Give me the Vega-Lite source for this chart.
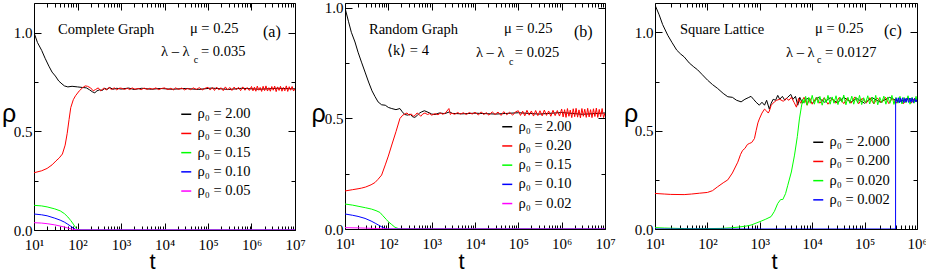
{
"$schema": "https://vega.github.io/schema/vega-lite/v6.json",
"padding": {"top": 0, "left": 0, "right": 0, "bottom": 0},
"background": "white",
"spacing": 50,
"bounds": "flush",
"config": {
 "font": "Times New Roman, Liberation Serif, serif",
 "view": {"stroke": "#000", "strokeWidth": 1},
 "axis": {"grid": false, "domain": false, "tickColor": "#000", "tickWidth": 1, "labelColor": "#000", "labelFont": "Times New Roman, Liberation Serif, serif", "labelFontSize": 15, "titleFont": "Liberation Sans, Arial, sans-serif", "titleFontWeight": "normal", "titleColor": "#000", "labelFlush": false, "labelOverlap": false},
 "axisX": {"titleFontSize": 22, "titleAlign": "center", "titleBaseline": "alphabetic"},
 "axisY": {"titleFontSize": 25, "titleAngle": 0, "titleAlign": "center", "titleBaseline": "alphabetic"},
 "legend": {"orient": "none", "title": null, "symbolType": "stroke", "symbolSize": 100, "symbolStrokeWidth": 1.5, "labelFontSize": 14.5, "labelFont": "Times New Roman, Liberation Serif, serif", "labelColor": "#000", "rowPadding": 4.2, "labelOffset": 4, "padding": 0},
 "text": {"font": "Times New Roman, Liberation Serif, serif", "color": "#000"}
},
"resolve": {"scale": {"color": "independent"}, "legend": {"color": "independent"}},
"datasets": {
 "a": [
  {"k":"ρ₀ = 2.00","t":10,"r":1.0},{"k":"ρ₀ = 2.00","t":12,"r":0.95},{"k":"ρ₀ = 2.00","t":15,"r":0.91},{"k":"ρ₀ = 2.00","t":18,"r":0.87},{"k":"ρ₀ = 2.00","t":22,"r":0.83},{"k":"ρ₀ = 2.00","t":26,"r":0.80},{"k":"ρ₀ = 2.00","t":31,"r":0.78},{"k":"ρ₀ = 2.00","t":37,"r":0.755},{"k":"ρ₀ = 2.00","t":44,"r":0.74},{"k":"ρ₀ = 2.00","t":50,"r":0.73},{"k":"ρ₀ = 2.00","t":60,"r":0.725},{"k":"ρ₀ = 2.00","t":75,"r":0.728},{"k":"ρ₀ = 2.00","t":100,"r":0.725},{"k":"ρ₀ = 2.00","t":130,"r":0.722},{"k":"ρ₀ = 2.00","t":160,"r":0.72},{"k":"ρ₀ = 2.00","t":190,"r":0.71},{"k":"ρ₀ = 2.00","t":220,"r":0.70},{"k":"ρ₀ = 2.00","t":250,"r":0.695},{"k":"ρ₀ = 2.00","t":280,"r":0.705},{"k":"ρ₀ = 2.00","t":320,"r":0.71},{"k":"ρ₀ = 2.00","t":370,"r":0.707},{"k":"ρ₀ = 2.00","t":420,"r":0.718},{"k":"ρ₀ = 2.00","t":480,"r":0.712},{"k":"ρ₀ = 2.00","t":550,"r":0.722},{"k":"ρ₀ = 2.00","t":650,"r":0.713},{"k":"ρ₀ = 2.00","t":800,"r":0.718},{"k":"ρ₀ = 2.00","t":1000,"r":0.714},{"k":"ρ₀ = 2.00","t":1500,"r":0.719},{"k":"ρ₀ = 2.00","t":2000,"r":0.712},{"k":"ρ₀ = 2.00","t":3000,"r":0.718},{"k":"ρ₀ = 2.00","t":5000,"r":0.713},{"k":"ρ₀ = 2.00","t":8000,"r":0.717},{"k":"ρ₀ = 2.00","t":15000,"r":0.713},{"k":"ρ₀ = 2.00","t":30000,"r":0.717},{"k":"ρ₀ = 2.00","t":60000,"r":0.712},{"k":"ρ₀ = 2.00","t":120000,"r":0.719},{"k":"ρ₀ = 2.00","t":300000,"r":0.712},{"k":"ρ₀ = 2.00","t":600000,"r":0.718},{"k":"ρ₀ = 2.00","t":1500000,"r":0.713},{"k":"ρ₀ = 2.00","t":4000000,"r":0.718},{"k":"ρ₀ = 2.00","t":10000000,"r":0.715},
  {"k":"ρ₀ = 0.30","t":10,"r":0.29},{"k":"ρ₀ = 0.30","t":15,"r":0.30},{"k":"ρ₀ = 0.30","t":20,"r":0.312},{"k":"ρ₀ = 0.30","t":26,"r":0.33},{"k":"ρ₀ = 0.30","t":32,"r":0.35},{"k":"ρ₀ = 0.30","t":38,"r":0.365},{"k":"ρ₀ = 0.30","t":45,"r":0.385},{"k":"ρ₀ = 0.30","t":52,"r":0.43},{"k":"ρ₀ = 0.30","t":58,"r":0.49},{"k":"ρ₀ = 0.30","t":64,"r":0.56},{"k":"ρ₀ = 0.30","t":70,"r":0.62},{"k":"ρ₀ = 0.30","t":80,"r":0.66},{"k":"ρ₀ = 0.30","t":90,"r":0.68},{"k":"ρ₀ = 0.30","t":110,"r":0.705},{"k":"ρ₀ = 0.30","t":130,"r":0.72},{"k":"ρ₀ = 0.30","t":150,"r":0.73},{"k":"ρ₀ = 0.30","t":170,"r":0.728},{"k":"ρ₀ = 0.30","t":200,"r":0.72},{"k":"ρ₀ = 0.30","t":230,"r":0.705},{"k":"ρ₀ = 0.30","t":260,"r":0.712},{"k":"ρ₀ = 0.30","t":300,"r":0.72},{"k":"ρ₀ = 0.30","t":340,"r":0.705},{"k":"ρ₀ = 0.30","t":400,"r":0.718},{"k":"ρ₀ = 0.30","t":460,"r":0.71},{"k":"ρ₀ = 0.30","t":530,"r":0.722},{"k":"ρ₀ = 0.30","t":600,"r":0.712},{"k":"ρ₀ = 0.30","t":700,"r":0.72},{"k":"ρ₀ = 0.30","t":800,"r":0.71},{"k":"ρ₀ = 0.30","t":900,"r":0.718},
  {"k":"ρ₀ = 0.30","t":1000,"r":0.719},{"k":"ρ₀ = 0.30","t":1200,"r":0.712},{"k":"ρ₀ = 0.30","t":1400,"r":0.718},{"k":"ρ₀ = 0.30","t":1600,"r":0.711},{"k":"ρ₀ = 0.30","t":1800,"r":0.72},{"k":"ρ₀ = 0.30","t":2100,"r":0.713},{"k":"ρ₀ = 0.30","t":2500,"r":0.717},{"k":"ρ₀ = 0.30","t":2900,"r":0.711},{"k":"ρ₀ = 0.30","t":3400,"r":0.719},{"k":"ρ₀ = 0.30","t":4000,"r":0.712},{"k":"ρ₀ = 0.30","t":4600,"r":0.718},{"k":"ρ₀ = 0.30","t":5400,"r":0.713},{"k":"ρ₀ = 0.30","t":6300,"r":0.72},{"k":"ρ₀ = 0.30","t":7400,"r":0.711},{"k":"ρ₀ = 0.30","t":8600,"r":0.717},
  {"k":"ρ₀ = 0.30","t":10000,"r":0.72},{"k":"ρ₀ = 0.30","t":12000,"r":0.711},{"k":"ρ₀ = 0.30","t":14000,"r":0.718},{"k":"ρ₀ = 0.30","t":16000,"r":0.71},{"k":"ρ₀ = 0.30","t":18000,"r":0.72},{"k":"ρ₀ = 0.30","t":21000,"r":0.712},{"k":"ρ₀ = 0.30","t":25000,"r":0.719},{"k":"ρ₀ = 0.30","t":29000,"r":0.71},{"k":"ρ₀ = 0.30","t":34000,"r":0.717},{"k":"ρ₀ = 0.30","t":40000,"r":0.711},{"k":"ρ₀ = 0.30","t":46000,"r":0.72},{"k":"ρ₀ = 0.30","t":54000,"r":0.712},{"k":"ρ₀ = 0.30","t":63000,"r":0.721},{"k":"ρ₀ = 0.30","t":74000,"r":0.71},{"k":"ρ₀ = 0.30","t":86000,"r":0.718},
  {"k":"ρ₀ = 0.30","t":100000,"r":0.723},{"k":"ρ₀ = 0.30","t":112000,"r":0.709},{"k":"ρ₀ = 0.30","t":126000,"r":0.722},{"k":"ρ₀ = 0.30","t":141000,"r":0.707},{"k":"ρ₀ = 0.30","t":158000,"r":0.724},{"k":"ρ₀ = 0.30","t":178000,"r":0.71},{"k":"ρ₀ = 0.30","t":200000,"r":0.721},{"k":"ρ₀ = 0.30","t":224000,"r":0.706},{"k":"ρ₀ = 0.30","t":251000,"r":0.725},{"k":"ρ₀ = 0.30","t":282000,"r":0.709},{"k":"ρ₀ = 0.30","t":316000,"r":0.722},{"k":"ρ₀ = 0.30","t":355000,"r":0.707},{"k":"ρ₀ = 0.30","t":398000,"r":0.724},{"k":"ρ₀ = 0.30","t":447000,"r":0.71},{"k":"ρ₀ = 0.30","t":501000,"r":0.723},{"k":"ρ₀ = 0.30","t":562000,"r":0.706},{"k":"ρ₀ = 0.30","t":631000,"r":0.725},{"k":"ρ₀ = 0.30","t":708000,"r":0.708},{"k":"ρ₀ = 0.30","t":794000,"r":0.722},{"k":"ρ₀ = 0.30","t":891000,"r":0.707},
  {"k":"ρ₀ = 0.30","t":1000000,"r":0.727},{"k":"ρ₀ = 0.30","t":1080000,"r":0.705},{"k":"ρ₀ = 0.30","t":1170000,"r":0.724},{"k":"ρ₀ = 0.30","t":1260000,"r":0.703},{"k":"ρ₀ = 0.30","t":1360000,"r":0.729},{"k":"ρ₀ = 0.30","t":1470000,"r":0.708},{"k":"ρ₀ = 0.30","t":1580000,"r":0.722},{"k":"ρ₀ = 0.30","t":1710000,"r":0.702},{"k":"ρ₀ = 0.30","t":1850000,"r":0.728},{"k":"ρ₀ = 0.30","t":2000000,"r":0.706},{"k":"ρ₀ = 0.30","t":2150000,"r":0.73},{"k":"ρ₀ = 0.30","t":2330000,"r":0.704},{"k":"ρ₀ = 0.30","t":2510000,"r":0.721},{"k":"ρ₀ = 0.30","t":2710000,"r":0.703},{"k":"ρ₀ = 0.30","t":2930000,"r":0.727},{"k":"ρ₀ = 0.30","t":3160000,"r":0.708},{"k":"ρ₀ = 0.30","t":3410000,"r":0.729},{"k":"ρ₀ = 0.30","t":3690000,"r":0.701},{"k":"ρ₀ = 0.30","t":3980000,"r":0.725},{"k":"ρ₀ = 0.30","t":4300000,"r":0.707},{"k":"ρ₀ = 0.30","t":4640000,"r":0.728},{"k":"ρ₀ = 0.30","t":5010000,"r":0.703},{"k":"ρ₀ = 0.30","t":5410000,"r":0.722},{"k":"ρ₀ = 0.30","t":5840000,"r":0.705},{"k":"ρ₀ = 0.30","t":6310000,"r":0.73},{"k":"ρ₀ = 0.30","t":6810000,"r":0.702},{"k":"ρ₀ = 0.30","t":7360000,"r":0.726},{"k":"ρ₀ = 0.30","t":7940000,"r":0.708},{"k":"ρ₀ = 0.30","t":8580000,"r":0.727},{"k":"ρ₀ = 0.30","t":9260000,"r":0.704},{"k":"ρ₀ = 0.30","t":10000000,"r":0.715},
  {"k":"ρ₀ = 0.15","t":10,"r":0.125},{"k":"ρ₀ = 0.15","t":15,"r":0.122},{"k":"ρ₀ = 0.15","t":20,"r":0.117},{"k":"ρ₀ = 0.15","t":30,"r":0.107},{"k":"ρ₀ = 0.15","t":40,"r":0.097},{"k":"ρ₀ = 0.15","t":50,"r":0.083},{"k":"ρ₀ = 0.15","t":60,"r":0.066},{"k":"ρ₀ = 0.15","t":70,"r":0.048},{"k":"ρ₀ = 0.15","t":80,"r":0.03},{"k":"ρ₀ = 0.15","t":90,"r":0.013},{"k":"ρ₀ = 0.15","t":100,"r":0.003},{"k":"ρ₀ = 0.15","t":120,"r":0},{"k":"ρ₀ = 0.15","t":10000000,"r":0},
  {"k":"ρ₀ = 0.10","t":10,"r":0.081},{"k":"ρ₀ = 0.10","t":15,"r":0.077},{"k":"ρ₀ = 0.10","t":20,"r":0.072},{"k":"ρ₀ = 0.10","t":30,"r":0.06},{"k":"ρ₀ = 0.10","t":40,"r":0.05},{"k":"ρ₀ = 0.10","t":50,"r":0.04},{"k":"ρ₀ = 0.10","t":60,"r":0.029},{"k":"ρ₀ = 0.10","t":70,"r":0.019},{"k":"ρ₀ = 0.10","t":80,"r":0.01},{"k":"ρ₀ = 0.10","t":90,"r":0.004},{"k":"ρ₀ = 0.10","t":100,"r":0.001},{"k":"ρ₀ = 0.10","t":120,"r":0},{"k":"ρ₀ = 0.10","t":10000000,"r":0},
  {"k":"ρ₀ = 0.05","t":10,"r":0.037},{"k":"ρ₀ = 0.05","t":15,"r":0.035},{"k":"ρ₀ = 0.05","t":20,"r":0.032},{"k":"ρ₀ = 0.05","t":30,"r":0.026},{"k":"ρ₀ = 0.05","t":40,"r":0.02},{"k":"ρ₀ = 0.05","t":50,"r":0.015},{"k":"ρ₀ = 0.05","t":60,"r":0.01},{"k":"ρ₀ = 0.05","t":70,"r":0.006},{"k":"ρ₀ = 0.05","t":80,"r":0.003},{"k":"ρ₀ = 0.05","t":100,"r":0.001},{"k":"ρ₀ = 0.05","t":120,"r":0},{"k":"ρ₀ = 0.05","t":10000000,"r":0}
 ],
 "b": [
  {"k":"ρ₀ = 2.00","t":10,"r":1.0},{"k":"ρ₀ = 2.00","t":12,"r":0.94},{"k":"ρ₀ = 2.00","t":14,"r":0.89},{"k":"ρ₀ = 2.00","t":17,"r":0.846},{"k":"ρ₀ = 2.00","t":20,"r":0.8},{"k":"ρ₀ = 2.00","t":24,"r":0.755},{"k":"ρ₀ = 2.00","t":29,"r":0.71},{"k":"ρ₀ = 2.00","t":35,"r":0.665},{"k":"ρ₀ = 2.00","t":42,"r":0.625},{"k":"ρ₀ = 2.00","t":49,"r":0.6},{"k":"ρ₀ = 2.00","t":58,"r":0.575},{"k":"ρ₀ = 2.00","t":70,"r":0.562},{"k":"ρ₀ = 2.00","t":85,"r":0.56},{"k":"ρ₀ = 2.00","t":100,"r":0.55},{"k":"ρ₀ = 2.00","t":120,"r":0.545},{"k":"ρ₀ = 2.00","t":150,"r":0.54},{"k":"ρ₀ = 2.00","t":185,"r":0.545},{"k":"ρ₀ = 2.00","t":210,"r":0.53},{"k":"ρ₀ = 2.00","t":240,"r":0.518},{"k":"ρ₀ = 2.00","t":280,"r":0.515},{"k":"ρ₀ = 2.00","t":320,"r":0.52},{"k":"ρ₀ = 2.00","t":360,"r":0.508},{"k":"ρ₀ = 2.00","t":410,"r":0.505},{"k":"ρ₀ = 2.00","t":470,"r":0.515},{"k":"ρ₀ = 2.00","t":530,"r":0.525},{"k":"ρ₀ = 2.00","t":590,"r":0.53},{"k":"ρ₀ = 2.00","t":680,"r":0.535},{"k":"ρ₀ = 2.00","t":780,"r":0.53},{"k":"ρ₀ = 2.00","t":900,"r":0.525},{"k":"ρ₀ = 2.00","t":1000,"r":0.52},{"k":"ρ₀ = 2.00","t":1200,"r":0.518},{"k":"ρ₀ = 2.00","t":1500,"r":0.525},{"k":"ρ₀ = 2.00","t":2000,"r":0.522},{"k":"ρ₀ = 2.00","t":2600,"r":0.53},{"k":"ρ₀ = 2.00","t":3000,"r":0.523},{"k":"ρ₀ = 2.00","t":5000,"r":0.521},{"k":"ρ₀ = 2.00","t":10000,"r":0.524},{"k":"ρ₀ = 2.00","t":30000,"r":0.52},{"k":"ρ₀ = 2.00","t":100000,"r":0.526},{"k":"ρ₀ = 2.00","t":300000,"r":0.52},{"k":"ρ₀ = 2.00","t":1000000,"r":0.527},{"k":"ρ₀ = 2.00","t":3000000,"r":0.519},{"k":"ρ₀ = 2.00","t":10000000,"r":0.525},
  {"k":"ρ₀ = 0.20","t":10,"r":0.172},{"k":"ρ₀ = 0.20","t":15,"r":0.178},{"k":"ρ₀ = 0.20","t":20,"r":0.182},{"k":"ρ₀ = 0.20","t":24,"r":0.185},{"k":"ρ₀ = 0.20","t":30,"r":0.19},{"k":"ρ₀ = 0.20","t":40,"r":0.2},{"k":"ρ₀ = 0.20","t":49,"r":0.21},{"k":"ρ₀ = 0.20","t":58,"r":0.225},{"k":"ρ₀ = 0.20","t":70,"r":0.244},{"k":"ρ₀ = 0.20","t":85,"r":0.29},{"k":"ρ₀ = 0.20","t":100,"r":0.33},{"k":"ρ₀ = 0.20","t":120,"r":0.38},{"k":"ρ₀ = 0.20","t":150,"r":0.44},{"k":"ρ₀ = 0.20","t":185,"r":0.5},{"k":"ρ₀ = 0.20","t":215,"r":0.515},{"k":"ρ₀ = 0.20","t":240,"r":0.52},{"k":"ρ₀ = 0.20","t":270,"r":0.525},{"k":"ρ₀ = 0.20","t":300,"r":0.515},{"k":"ρ₀ = 0.20","t":340,"r":0.52},{"k":"ρ₀ = 0.20","t":380,"r":0.51},{"k":"ρ₀ = 0.20","t":420,"r":0.515},{"k":"ρ₀ = 0.20","t":460,"r":0.525},{"k":"ρ₀ = 0.20","t":500,"r":0.52},{"k":"ρ₀ = 0.20","t":560,"r":0.51},{"k":"ρ₀ = 0.20","t":620,"r":0.52},{"k":"ρ₀ = 0.20","t":700,"r":0.525},{"k":"ρ₀ = 0.20","t":800,"r":0.518},{"k":"ρ₀ = 0.20","t":900,"r":0.522},{"k":"ρ₀ = 0.20","t":1000,"r":0.515},
  {"k":"ρ₀ = 0.20","t":1200,"r":0.522},{"k":"ρ₀ = 0.20","t":1400,"r":0.517},{"k":"ρ₀ = 0.20","t":1600,"r":0.525},{"k":"ρ₀ = 0.20","t":1800,"r":0.519},{"k":"ρ₀ = 0.20","t":2100,"r":0.526},{"k":"ρ₀ = 0.20","t":2500,"r":0.545},{"k":"ρ₀ = 0.20","t":2700,"r":0.518},{"k":"ρ₀ = 0.20","t":2900,"r":0.524},{"k":"ρ₀ = 0.20","t":3400,"r":0.519},{"k":"ρ₀ = 0.20","t":4000,"r":0.527},{"k":"ρ₀ = 0.20","t":4600,"r":0.52},{"k":"ρ₀ = 0.20","t":5400,"r":0.526},{"k":"ρ₀ = 0.20","t":6300,"r":0.518},{"k":"ρ₀ = 0.20","t":7400,"r":0.527},{"k":"ρ₀ = 0.20","t":8600,"r":0.52},
  {"k":"ρ₀ = 0.20","t":10000,"r":0.528},{"k":"ρ₀ = 0.20","t":12000,"r":0.516},{"k":"ρ₀ = 0.20","t":14000,"r":0.53},{"k":"ρ₀ = 0.20","t":16000,"r":0.517},{"k":"ρ₀ = 0.20","t":18000,"r":0.527},{"k":"ρ₀ = 0.20","t":21000,"r":0.515},{"k":"ρ₀ = 0.20","t":25000,"r":0.53},{"k":"ρ₀ = 0.20","t":29000,"r":0.518},{"k":"ρ₀ = 0.20","t":34000,"r":0.529},{"k":"ρ₀ = 0.20","t":40000,"r":0.514},{"k":"ρ₀ = 0.20","t":46000,"r":0.531},{"k":"ρ₀ = 0.20","t":54000,"r":0.517},{"k":"ρ₀ = 0.20","t":63000,"r":0.528},{"k":"ρ₀ = 0.20","t":74000,"r":0.515},{"k":"ρ₀ = 0.20","t":86000,"r":0.53},
  {"k":"ρ₀ = 0.20","t":100000,"r":0.535},{"k":"ρ₀ = 0.20","t":112000,"r":0.514},{"k":"ρ₀ = 0.20","t":126000,"r":0.533},{"k":"ρ₀ = 0.20","t":141000,"r":0.512},{"k":"ρ₀ = 0.20","t":158000,"r":0.537},{"k":"ρ₀ = 0.20","t":178000,"r":0.515},{"k":"ρ₀ = 0.20","t":200000,"r":0.534},{"k":"ρ₀ = 0.20","t":224000,"r":0.511},{"k":"ρ₀ = 0.20","t":251000,"r":0.536},{"k":"ρ₀ = 0.20","t":282000,"r":0.513},{"k":"ρ₀ = 0.20","t":316000,"r":0.535},{"k":"ρ₀ = 0.20","t":355000,"r":0.512},{"k":"ρ₀ = 0.20","t":398000,"r":0.538},{"k":"ρ₀ = 0.20","t":447000,"r":0.514},{"k":"ρ₀ = 0.20","t":501000,"r":0.534},{"k":"ρ₀ = 0.20","t":562000,"r":0.51},{"k":"ρ₀ = 0.20","t":631000,"r":0.537},{"k":"ρ₀ = 0.20","t":708000,"r":0.513},{"k":"ρ₀ = 0.20","t":794000,"r":0.536},{"k":"ρ₀ = 0.20","t":891000,"r":0.511},
  {"k":"ρ₀ = 0.20","t":1000000,"r":0.543},{"k":"ρ₀ = 0.20","t":1080000,"r":0.507},{"k":"ρ₀ = 0.20","t":1170000,"r":0.54},{"k":"ρ₀ = 0.20","t":1260000,"r":0.505},{"k":"ρ₀ = 0.20","t":1360000,"r":0.545},{"k":"ρ₀ = 0.20","t":1470000,"r":0.51},{"k":"ρ₀ = 0.20","t":1580000,"r":0.538},{"k":"ρ₀ = 0.20","t":1710000,"r":0.504},{"k":"ρ₀ = 0.20","t":1850000,"r":0.544},{"k":"ρ₀ = 0.20","t":2000000,"r":0.508},{"k":"ρ₀ = 0.20","t":2150000,"r":0.546},{"k":"ρ₀ = 0.20","t":2330000,"r":0.506},{"k":"ρ₀ = 0.20","t":2510000,"r":0.539},{"k":"ρ₀ = 0.20","t":2710000,"r":0.503},{"k":"ρ₀ = 0.20","t":2930000,"r":0.545},{"k":"ρ₀ = 0.20","t":3160000,"r":0.51},{"k":"ρ₀ = 0.20","t":3410000,"r":0.542},{"k":"ρ₀ = 0.20","t":3690000,"r":0.505},{"k":"ρ₀ = 0.20","t":3980000,"r":0.546},{"k":"ρ₀ = 0.20","t":4300000,"r":0.507},{"k":"ρ₀ = 0.20","t":4640000,"r":0.54},{"k":"ρ₀ = 0.20","t":5010000,"r":0.504},{"k":"ρ₀ = 0.20","t":5410000,"r":0.544},{"k":"ρ₀ = 0.20","t":5840000,"r":0.509},{"k":"ρ₀ = 0.20","t":6310000,"r":0.547},{"k":"ρ₀ = 0.20","t":6810000,"r":0.505},{"k":"ρ₀ = 0.20","t":7360000,"r":0.541},{"k":"ρ₀ = 0.20","t":7940000,"r":0.508},{"k":"ρ₀ = 0.20","t":8580000,"r":0.545},{"k":"ρ₀ = 0.20","t":9260000,"r":0.504},{"k":"ρ₀ = 0.20","t":10000000,"r":0.525},
  {"k":"ρ₀ = 0.15","t":10,"r":0.113},{"k":"ρ₀ = 0.15","t":15,"r":0.108},{"k":"ρ₀ = 0.15","t":20,"r":0.103},{"k":"ρ₀ = 0.15","t":30,"r":0.096},{"k":"ρ₀ = 0.15","t":41,"r":0.09},{"k":"ρ₀ = 0.15","t":52,"r":0.083},{"k":"ρ₀ = 0.15","t":64,"r":0.075},{"k":"ρ₀ = 0.15","t":75,"r":0.06},{"k":"ρ₀ = 0.15","t":90,"r":0.043},{"k":"ρ₀ = 0.15","t":100,"r":0.033},{"k":"ρ₀ = 0.15","t":120,"r":0.02},{"k":"ρ₀ = 0.15","t":142,"r":0.008},{"k":"ρ₀ = 0.15","t":170,"r":0.002},{"k":"ρ₀ = 0.15","t":190,"r":0},{"k":"ρ₀ = 0.15","t":10000000,"r":0},
  {"k":"ρ₀ = 0.10","t":10,"r":0.068},{"k":"ρ₀ = 0.10","t":15,"r":0.062},{"k":"ρ₀ = 0.10","t":20,"r":0.057},{"k":"ρ₀ = 0.10","t":29,"r":0.048},{"k":"ρ₀ = 0.10","t":40,"r":0.036},{"k":"ρ₀ = 0.10","t":50,"r":0.026},{"k":"ρ₀ = 0.10","t":59,"r":0.018},{"k":"ρ₀ = 0.10","t":70,"r":0.01},{"k":"ρ₀ = 0.10","t":80,"r":0.004},{"k":"ρ₀ = 0.10","t":91,"r":0},{"k":"ρ₀ = 0.10","t":10000000,"r":0},
  {"k":"ρ₀ = 0.02","t":10,"r":0.006},{"k":"ρ₀ = 0.02","t":20,"r":0.005},{"k":"ρ₀ = 0.02","t":30,"r":0.004},{"k":"ρ₀ = 0.02","t":50,"r":0.002},{"k":"ρ₀ = 0.02","t":80,"r":0.001},{"k":"ρ₀ = 0.02","t":100,"r":0},{"k":"ρ₀ = 0.02","t":10000000,"r":0}
 ],
 "c": [
  {"k":"ρ₀ = 2.000","t":10,"r":1.14},{"k":"ρ₀ = 2.000","t":12,"r":1.09},{"k":"ρ₀ = 2.000","t":14,"r":1.04},{"k":"ρ₀ = 2.000","t":17.5,"r":0.986},{"k":"ρ₀ = 2.000","t":21,"r":0.95},{"k":"ρ₀ = 2.000","t":26,"r":0.91},{"k":"ρ₀ = 2.000","t":31,"r":0.89},{"k":"ρ₀ = 2.000","t":36,"r":0.876},{"k":"ρ₀ = 2.000","t":45,"r":0.845},{"k":"ρ₀ = 2.000","t":55,"r":0.825},{"k":"ρ₀ = 2.000","t":65,"r":0.81},{"k":"ρ₀ = 2.000","t":80,"r":0.785},{"k":"ρ₀ = 2.000","t":101,"r":0.757},{"k":"ρ₀ = 2.000","t":125,"r":0.735},{"k":"ρ₀ = 2.000","t":157,"r":0.715},{"k":"ρ₀ = 2.000","t":200,"r":0.69},{"k":"ρ₀ = 2.000","t":245,"r":0.673},{"k":"ρ₀ = 2.000","t":300,"r":0.67},{"k":"ρ₀ = 2.000","t":360,"r":0.655},{"k":"ρ₀ = 2.000","t":440,"r":0.647},{"k":"ρ₀ = 2.000","t":520,"r":0.66},{"k":"ρ₀ = 2.000","t":600,"r":0.668},{"k":"ρ₀ = 2.000","t":680,"r":0.675},{"k":"ρ₀ = 2.000","t":760,"r":0.66},{"k":"ρ₀ = 2.000","t":850,"r":0.645},{"k":"ρ₀ = 2.000","t":980,"r":0.63},{"k":"ρ₀ = 2.000","t":1100,"r":0.645},{"k":"ρ₀ = 2.000","t":1230,"r":0.63},{"k":"ρ₀ = 2.000","t":1350,"r":0.655},{"k":"ρ₀ = 2.000","t":1520,"r":0.61},{"k":"ρ₀ = 2.000","t":1650,"r":0.64},{"k":"ρ₀ = 2.000","t":1800,"r":0.66},{"k":"ρ₀ = 2.000","t":2000,"r":0.655},{"k":"ρ₀ = 2.000","t":2200,"r":0.68},{"k":"ρ₀ = 2.000","t":2400,"r":0.66},{"k":"ρ₀ = 2.000","t":2700,"r":0.675},{"k":"ρ₀ = 2.000","t":3000,"r":0.655},{"k":"ρ₀ = 2.000","t":3400,"r":0.67},{"k":"ρ₀ = 2.000","t":3900,"r":0.685},{"k":"ρ₀ = 2.000","t":4300,"r":0.66},{"k":"ρ₀ = 2.000","t":4800,"r":0.675},{"k":"ρ₀ = 2.000","t":5300,"r":0.63},{"k":"ρ₀ = 2.000","t":5800,"r":0.67},{"k":"ρ₀ = 2.000","t":6500,"r":0.64},{"k":"ρ₀ = 2.000","t":8000,"r":0.665},{"k":"ρ₀ = 2.000","t":10000,"r":0.64},{"k":"ρ₀ = 2.000","t":13000,"r":0.67},{"k":"ρ₀ = 2.000","t":17000,"r":0.645},{"k":"ρ₀ = 2.000","t":22000,"r":0.668},{"k":"ρ₀ = 2.000","t":30000,"r":0.642},{"k":"ρ₀ = 2.000","t":40000,"r":0.67},{"k":"ρ₀ = 2.000","t":55000,"r":0.645},{"k":"ρ₀ = 2.000","t":70000,"r":0.665},{"k":"ρ₀ = 2.000","t":100000,"r":0.64},{"k":"ρ₀ = 2.000","t":140000,"r":0.668},{"k":"ρ₀ = 2.000","t":200000,"r":0.645},{"k":"ρ₀ = 2.000","t":300000,"r":0.67},{"k":"ρ₀ = 2.000","t":450000,"r":0.648},{"k":"ρ₀ = 2.000","t":700000,"r":0.665},{"k":"ρ₀ = 2.000","t":1000000,"r":0.65},
  {"k":"ρ₀ = 0.200","t":10,"r":0.181},{"k":"ρ₀ = 0.200","t":15,"r":0.178},{"k":"ρ₀ = 0.200","t":20,"r":0.176},{"k":"ρ₀ = 0.200","t":36,"r":0.175},{"k":"ρ₀ = 0.200","t":50,"r":0.178},{"k":"ρ₀ = 0.200","t":70,"r":0.182},{"k":"ρ₀ = 0.200","t":100,"r":0.186},{"k":"ρ₀ = 0.200","t":125,"r":0.195},{"k":"ρ₀ = 0.200","t":157,"r":0.215},{"k":"ρ₀ = 0.200","t":200,"r":0.235},{"k":"ρ₀ = 0.200","t":245,"r":0.25},{"k":"ρ₀ = 0.200","t":300,"r":0.285},{"k":"ρ₀ = 0.200","t":380,"r":0.34},{"k":"ρ₀ = 0.200","t":430,"r":0.38},{"k":"ρ₀ = 0.200","t":470,"r":0.40},{"k":"ρ₀ = 0.200","t":520,"r":0.41},{"k":"ρ₀ = 0.200","t":580,"r":0.43},{"k":"ρ₀ = 0.200","t":630,"r":0.435},{"k":"ρ₀ = 0.200","t":700,"r":0.44},{"k":"ρ₀ = 0.200","t":790,"r":0.46},{"k":"ρ₀ = 0.200","t":850,"r":0.5},{"k":"ρ₀ = 0.200","t":920,"r":0.54},{"k":"ρ₀ = 0.200","t":980,"r":0.56},{"k":"ρ₀ = 0.200","t":1100,"r":0.59},{"k":"ρ₀ = 0.200","t":1230,"r":0.61},{"k":"ρ₀ = 0.200","t":1350,"r":0.6},{"k":"ρ₀ = 0.200","t":1450,"r":0.59},{"k":"ρ₀ = 0.200","t":1520,"r":0.6},{"k":"ρ₀ = 0.200","t":1650,"r":0.63},{"k":"ρ₀ = 0.200","t":1900,"r":0.647},{"k":"ρ₀ = 0.200","t":2100,"r":0.655},{"k":"ρ₀ = 0.200","t":2400,"r":0.66},{"k":"ρ₀ = 0.200","t":2800,"r":0.65},{"k":"ρ₀ = 0.200","t":3200,"r":0.665},{"k":"ρ₀ = 0.200","t":3600,"r":0.655},{"k":"ρ₀ = 0.200","t":4000,"r":0.67},{"k":"ρ₀ = 0.200","t":4500,"r":0.645},{"k":"ρ₀ = 0.200","t":5000,"r":0.62},{"k":"ρ₀ = 0.200","t":5500,"r":0.665},{"k":"ρ₀ = 0.200","t":6000,"r":0.64},{"k":"ρ₀ = 0.200","t":7000,"r":0.67},{"k":"ρ₀ = 0.200","t":8000,"r":0.63},{"k":"ρ₀ = 0.200","t":9000,"r":0.665},{"k":"ρ₀ = 0.200","t":10000,"r":0.635},{"k":"ρ₀ = 0.200","t":12000,"r":0.67},{"k":"ρ₀ = 0.200","t":14000,"r":0.64},{"k":"ρ₀ = 0.200","t":17000,"r":0.668},{"k":"ρ₀ = 0.200","t":20000,"r":0.635},{"k":"ρ₀ = 0.200","t":24000,"r":0.665},{"k":"ρ₀ = 0.200","t":28000,"r":0.64},{"k":"ρ₀ = 0.200","t":33000,"r":0.67},{"k":"ρ₀ = 0.200","t":40000,"r":0.638},{"k":"ρ₀ = 0.200","t":47000,"r":0.667},{"k":"ρ₀ = 0.200","t":55000,"r":0.64},{"k":"ρ₀ = 0.200","t":65000,"r":0.672},{"k":"ρ₀ = 0.200","t":77000,"r":0.637},{"k":"ρ₀ = 0.200","t":90000,"r":0.665},{"k":"ρ₀ = 0.200","t":107000,"r":0.64},{"k":"ρ₀ = 0.200","t":126000,"r":0.668},{"k":"ρ₀ = 0.200","t":150000,"r":0.636},{"k":"ρ₀ = 0.200","t":175000,"r":0.667},{"k":"ρ₀ = 0.200","t":210000,"r":0.642},{"k":"ρ₀ = 0.200","t":250000,"r":0.67},{"k":"ρ₀ = 0.200","t":290000,"r":0.638},{"k":"ρ₀ = 0.200","t":340000,"r":0.665},{"k":"ρ₀ = 0.200","t":400000,"r":0.64},{"k":"ρ₀ = 0.200","t":470000,"r":0.668},{"k":"ρ₀ = 0.200","t":550000,"r":0.637},{"k":"ρ₀ = 0.200","t":650000,"r":0.666},{"k":"ρ₀ = 0.200","t":770000,"r":0.64},{"k":"ρ₀ = 0.200","t":900000,"r":0.665},{"k":"ρ₀ = 0.200","t":1000000,"r":0.65},
  {"k":"ρ₀ = 0.020","t":10,"r":0.007},{"k":"ρ₀ = 0.020","t":15,"r":0.005},{"k":"ρ₀ = 0.020","t":20,"r":0.004},{"k":"ρ₀ = 0.020","t":36,"r":0.002},{"k":"ρ₀ = 0.020","t":60,"r":0.001},{"k":"ρ₀ = 0.020","t":100,"r":0.002},{"k":"ρ₀ = 0.020","t":180,"r":0.003},{"k":"ρ₀ = 0.020","t":280,"r":0.006},{"k":"ρ₀ = 0.020","t":400,"r":0.01},{"k":"ρ₀ = 0.020","t":550,"r":0.015},{"k":"ρ₀ = 0.020","t":680,"r":0.02},{"k":"ρ₀ = 0.020","t":850,"r":0.03},{"k":"ρ₀ = 0.020","t":1060,"r":0.04},{"k":"ρ₀ = 0.020","t":1300,"r":0.05},{"k":"ρ₀ = 0.020","t":1640,"r":0.063},{"k":"ρ₀ = 0.020","t":1900,"r":0.09},{"k":"ρ₀ = 0.020","t":2200,"r":0.13},{"k":"ρ₀ = 0.020","t":2500,"r":0.15},{"k":"ρ₀ = 0.020","t":2750,"r":0.15},{"k":"ρ₀ = 0.020","t":3100,"r":0.18},{"k":"ρ₀ = 0.020","t":3400,"r":0.22},{"k":"ρ₀ = 0.020","t":4000,"r":0.29},{"k":"ρ₀ = 0.020","t":4600,"r":0.376},{"k":"ρ₀ = 0.020","t":5200,"r":0.47},{"k":"ρ₀ = 0.020","t":5700,"r":0.56},{"k":"ρ₀ = 0.020","t":6200,"r":0.62},{"k":"ρ₀ = 0.020","t":6600,"r":0.66},{"k":"ρ₀ = 0.020","t":7000,"r":0.64},{"k":"ρ₀ = 0.020","t":7500,"r":0.675},{"k":"ρ₀ = 0.020","t":8000,"r":0.63},{"k":"ρ₀ = 0.020","t":8600,"r":0.67},{"k":"ρ₀ = 0.020","t":9200,"r":0.64},{"k":"ρ₀ = 0.020","t":10000,"r":0.68},{"k":"ρ₀ = 0.020","t":11000,"r":0.635},{"k":"ρ₀ = 0.020","t":12000,"r":0.67},{"k":"ρ₀ = 0.020","t":13000,"r":0.64},{"k":"ρ₀ = 0.020","t":14000,"r":0.675},{"k":"ρ₀ = 0.020","t":15500,"r":0.63},{"k":"ρ₀ = 0.020","t":17000,"r":0.668},{"k":"ρ₀ = 0.020","t":18500,"r":0.642},{"k":"ρ₀ = 0.020","t":20000,"r":0.68},{"k":"ρ₀ = 0.020","t":22000,"r":0.635},{"k":"ρ₀ = 0.020","t":24000,"r":0.672},{"k":"ρ₀ = 0.020","t":26000,"r":0.64},{"k":"ρ₀ = 0.020","t":28500,"r":0.678},{"k":"ρ₀ = 0.020","t":31000,"r":0.633},{"k":"ρ₀ = 0.020","t":34000,"r":0.67},{"k":"ρ₀ = 0.020","t":37000,"r":0.645},{"k":"ρ₀ = 0.020","t":40000,"r":0.682},{"k":"ρ₀ = 0.020","t":44000,"r":0.632},{"k":"ρ₀ = 0.020","t":48000,"r":0.67},{"k":"ρ₀ = 0.020","t":52000,"r":0.64},{"k":"ρ₀ = 0.020","t":57000,"r":0.676},{"k":"ρ₀ = 0.020","t":62000,"r":0.635},{"k":"ρ₀ = 0.020","t":68000,"r":0.672},{"k":"ρ₀ = 0.020","t":74000,"r":0.64},{"k":"ρ₀ = 0.020","t":80000,"r":0.68},{"k":"ρ₀ = 0.020","t":88000,"r":0.633},{"k":"ρ₀ = 0.020","t":96000,"r":0.668},{"k":"ρ₀ = 0.020","t":105000,"r":0.642},{"k":"ρ₀ = 0.020","t":115000,"r":0.678},{"k":"ρ₀ = 0.020","t":125000,"r":0.636},{"k":"ρ₀ = 0.020","t":137000,"r":0.671},{"k":"ρ₀ = 0.020","t":150000,"r":0.638},{"k":"ρ₀ = 0.020","t":163000,"r":0.68},{"k":"ρ₀ = 0.020","t":178000,"r":0.632},{"k":"ρ₀ = 0.020","t":195000,"r":0.67},{"k":"ρ₀ = 0.020","t":213000,"r":0.643},{"k":"ρ₀ = 0.020","t":233000,"r":0.676},{"k":"ρ₀ = 0.020","t":255000,"r":0.635},{"k":"ρ₀ = 0.020","t":278000,"r":0.672},{"k":"ρ₀ = 0.020","t":304000,"r":0.64},{"k":"ρ₀ = 0.020","t":332000,"r":0.68},{"k":"ρ₀ = 0.020","t":363000,"r":0.634},{"k":"ρ₀ = 0.020","t":397000,"r":0.67},{"k":"ρ₀ = 0.020","t":433000,"r":0.64},{"k":"ρ₀ = 0.020","t":473000,"r":0.675},{"k":"ρ₀ = 0.020","t":517000,"r":0.636},{"k":"ρ₀ = 0.020","t":565000,"r":0.67},{"k":"ρ₀ = 0.020","t":617000,"r":0.642},{"k":"ρ₀ = 0.020","t":674000,"r":0.678},{"k":"ρ₀ = 0.020","t":736000,"r":0.635},{"k":"ρ₀ = 0.020","t":804000,"r":0.67},{"k":"ρ₀ = 0.020","t":879000,"r":0.64},{"k":"ρ₀ = 0.020","t":960000,"r":0.675},{"k":"ρ₀ = 0.020","t":1000000,"r":0.65},
  {"k":"ρ₀ = 0.002","t":10,"r":0},{"k":"ρ₀ = 0.002","t":390000,"r":0},{"k":"ρ₀ = 0.002","t":391000,"r":0.655},{"k":"ρ₀ = 0.002","t":400000,"r":0.665},{"k":"ρ₀ = 0.002","t":420000,"r":0.645},{"k":"ρ₀ = 0.002","t":440000,"r":0.668},{"k":"ρ₀ = 0.002","t":460000,"r":0.642},{"k":"ρ₀ = 0.002","t":480000,"r":0.666},{"k":"ρ₀ = 0.002","t":500000,"r":0.645},{"k":"ρ₀ = 0.002","t":530000,"r":0.668},{"k":"ρ₀ = 0.002","t":560000,"r":0.643},{"k":"ρ₀ = 0.002","t":590000,"r":0.665},{"k":"ρ₀ = 0.002","t":620000,"r":0.646},{"k":"ρ₀ = 0.002","t":650000,"r":0.667},{"k":"ρ₀ = 0.002","t":690000,"r":0.644},{"k":"ρ₀ = 0.002","t":730000,"r":0.666},{"k":"ρ₀ = 0.002","t":770000,"r":0.645},{"k":"ρ₀ = 0.002","t":810000,"r":0.667},{"k":"ρ₀ = 0.002","t":850000,"r":0.643},{"k":"ρ₀ = 0.002","t":900000,"r":0.665},{"k":"ρ₀ = 0.002","t":950000,"r":0.646},{"k":"ρ₀ = 0.002","t":1000000,"r":0.66}
 ],
 "ta": [{"t":35.6,"r":1.015,"txt":"Complete Graph"},{"t":38500,"r":1.02,"txt":"μ = 0.25"},{"t":8300,"r":0.904,"txt":"λ – λ"},{"t":69000,"r":0.904,"txt":"= 0.035"}],
 "sa": [{"t":46800,"r":0.86,"txt":"c"}],
 "la": [{"t":1840000,"r":1.005,"txt":"(a)"}],
 "tb": [{"t":35.8,"r":0.9,"txt":"Random Graph"},{"t":93,"r":0.806,"txt":"⟨k⟩ = 4"},{"t":46800,"r":0.905,"txt":"μ = 0.25"},{"t":10500,"r":0.797,"txt":"λ – λ"},{"t":83000,"r":0.797,"txt":"= 0.025"}],
 "sb": [{"t":61000,"r":0.757,"txt":"c"}],
 "lb": [{"t":1930000,"r":0.89,"txt":"(b)"}],
 "tc": [{"t":30,"r":1.015,"txt":"Square Lattice"},{"t":11300,"r":1.02,"txt":"μ = 0.25"},{"t":3160,"r":0.898,"txt":"λ – λ"},{"t":17500,"r":0.898,"txt":"= 0.0127"}],
 "sc": [{"t":12300,"r":0.858,"txt":"c"}],
 "lc": [{"t":234000,"r":1.005,"txt":"(c)"}]
},
"hconcat": [
 {
  "width": 261, "height": 227,
  "resolve": {"axis": {"x": "independent", "y": "independent"}},
  "layer": [
   {"data": {"name": "a"}, "mark": {"type": "line", "strokeWidth": 1, "clip": true},
    "encoding": {
     "x": {"field": "t", "type": "quantitative", "scale": {"type": "log", "domain": [10, 10000000]},
       "axis": {"orient": "bottom", "title": "t", "titleX": 118, "titleY": 38, "labelPadding": 14,
        "values": [10,20,30,40,50,60,70,80,90,100,200,300,400,500,600,700,800,900,1000,2000,3000,4000,5000,6000,7000,8000,9000,10000,20000,30000,40000,50000,60000,70000,80000,90000,100000,200000,300000,400000,500000,600000,700000,800000,900000,1000000,2000000,3000000,4000000,5000000,6000000,7000000,8000000,9000000,10000000],
        "labelExpr": "abs(log(datum.value)/LN10 - round(log(datum.value)/LN10)) < 1e-6 ? '10' + ['⁰','¹','²','³','⁴','⁵','⁶','⁷'][round(log(datum.value)/LN10)] : ''",
        "tickSize": {"condition": {"test": "abs(log(datum.value)/LN10 - round(log(datum.value)/LN10)) < 1e-6", "value": -7}, "value": -4}}},
     "y": {"field": "r", "type": "quantitative", "scale": {"domain": [0, 1.15], "nice": false, "zero": false},
       "axis": {"orient": "left", "title": "ρ", "titleX": -25.5, "titleY": 118, "labelPadding": 9,
        "values": [0, 0.25, 0.5, 0.75, 1],
        "labelExpr": "datum.value % 0.5 == 0 ? format(datum.value, '.1f') : ''",
        "tickSize": {"condition": {"test": "datum.value % 0.5 == 0", "value": -7}, "value": -4}}},
     "color": {"field": "k", "type": "nominal",
       "scale": {"domain": ["ρ₀ = 2.00","ρ₀ = 0.30","ρ₀ = 0.15","ρ₀ = 0.10","ρ₀ = 0.05"], "range": ["#000000","#ff0000","#00ff00","#0000ff","#ff00ff"]},
       "legend": {"legendX": 145, "legendY": 104}}
    }},
   {"data": {"name": "ta"}, "mark": {"type": "text", "align": "left", "baseline": "middle", "fontSize": 14.5},
    "encoding": {
     "x": {"field": "t", "type": "quantitative",
       "axis": {"orient": "top", "title": null, "labels": false,
        "values": [10,20,30,40,50,60,70,80,90,100,200,300,400,500,600,700,800,900,1000,2000,3000,4000,5000,6000,7000,8000,9000,10000,20000,30000,40000,50000,60000,70000,80000,90000,100000,200000,300000,400000,500000,600000,700000,800000,900000,1000000,2000000,3000000,4000000,5000000,6000000,7000000,8000000,9000000,10000000],
        "tickSize": {"condition": {"test": "abs(log(datum.value)/LN10 - round(log(datum.value)/LN10)) < 1e-6", "value": -7}, "value": -4}}},
     "y": {"field": "r", "type": "quantitative",
       "axis": {"orient": "right", "title": null, "labels": false, "values": [0, 0.25, 0.5, 0.75, 1],
        "tickSize": {"condition": {"test": "datum.value % 0.5 == 0", "value": -7}, "value": -4}}},
     "text": {"field": "txt"}
    }},
   {"data": {"name": "sa"}, "mark": {"type": "text", "align": "left", "baseline": "middle", "fontSize": 10},
    "encoding": {"x": {"field": "t", "type": "quantitative", "axis": null}, "y": {"field": "r", "type": "quantitative", "axis": null}, "text": {"field": "txt"}}},
   {"data": {"name": "la"}, "mark": {"type": "text", "align": "left", "baseline": "middle", "fontSize": 16},
    "encoding": {"x": {"field": "t", "type": "quantitative", "axis": null}, "y": {"field": "r", "type": "quantitative", "axis": null}, "text": {"field": "txt"}}}
  ]
 },
 {
  "width": 260, "height": 226,
  "resolve": {"axis": {"x": "independent", "y": "independent"}},
  "layer": [
   {"data": {"name": "b"}, "mark": {"type": "line", "strokeWidth": 1, "clip": true},
    "encoding": {
     "x": {"field": "t", "type": "quantitative", "scale": {"type": "log", "domain": [10, 10000000]},
       "axis": {"orient": "bottom", "title": "t", "titleX": 116, "titleY": 39, "labelPadding": 14,
        "values": [10,20,30,40,50,60,70,80,90,100,200,300,400,500,600,700,800,900,1000,2000,3000,4000,5000,6000,7000,8000,9000,10000,20000,30000,40000,50000,60000,70000,80000,90000,100000,200000,300000,400000,500000,600000,700000,800000,900000,1000000,2000000,3000000,4000000,5000000,6000000,7000000,8000000,9000000,10000000],
        "labelExpr": "abs(log(datum.value)/LN10 - round(log(datum.value)/LN10)) < 1e-6 ? '10' + ['⁰','¹','²','³','⁴','⁵','⁶','⁷'][round(log(datum.value)/LN10)] : ''",
        "tickSize": {"condition": {"test": "abs(log(datum.value)/LN10 - round(log(datum.value)/LN10)) < 1e-6", "value": -7}, "value": -4}}},
     "y": {"field": "r", "type": "quantitative", "scale": {"domain": [0, 1.0225], "nice": false, "zero": false},
       "axis": {"orient": "left", "title": "ρ", "titleX": -27, "titleY": 118, "labelPadding": 9,
        "values": [0, 0.25, 0.5, 0.75, 1],
        "labelExpr": "datum.value % 0.5 == 0 ? format(datum.value, '.1f') : ''",
        "tickSize": {"condition": {"test": "datum.value % 0.5 == 0", "value": -7}, "value": -4}}},
     "color": {"field": "k", "type": "nominal",
       "scale": {"domain": ["ρ₀ = 2.00","ρ₀ = 0.20","ρ₀ = 0.15","ρ₀ = 0.10","ρ₀ = 0.02"], "range": ["#000000","#ff0000","#00ff00","#0000ff","#ff00ff"]},
       "legend": {"legendX": 155, "legendY": 116.5}}
    }},
   {"data": {"name": "tb"}, "mark": {"type": "text", "align": "left", "baseline": "middle", "fontSize": 14.5},
    "encoding": {
     "x": {"field": "t", "type": "quantitative",
       "axis": {"orient": "top", "title": null, "labels": false,
        "values": [10,20,30,40,50,60,70,80,90,100,200,300,400,500,600,700,800,900,1000,2000,3000,4000,5000,6000,7000,8000,9000,10000,20000,30000,40000,50000,60000,70000,80000,90000,100000,200000,300000,400000,500000,600000,700000,800000,900000,1000000,2000000,3000000,4000000,5000000,6000000,7000000,8000000,9000000,10000000],
        "tickSize": {"condition": {"test": "abs(log(datum.value)/LN10 - round(log(datum.value)/LN10)) < 1e-6", "value": -7}, "value": -4}}},
     "y": {"field": "r", "type": "quantitative",
       "axis": {"orient": "right", "title": null, "labels": false, "values": [0, 0.25, 0.5, 0.75, 1],
        "tickSize": {"condition": {"test": "datum.value % 0.5 == 0", "value": -7}, "value": -4}}},
     "text": {"field": "txt"}
    }},
   {"data": {"name": "sb"}, "mark": {"type": "text", "align": "left", "baseline": "middle", "fontSize": 10},
    "encoding": {"x": {"field": "t", "type": "quantitative", "axis": null}, "y": {"field": "r", "type": "quantitative", "axis": null}, "text": {"field": "txt"}}},
   {"data": {"name": "lb"}, "mark": {"type": "text", "align": "left", "baseline": "middle", "fontSize": 16},
    "encoding": {"x": {"field": "t", "type": "quantitative", "axis": null}, "y": {"field": "r", "type": "quantitative", "axis": null}, "text": {"field": "txt"}}}
  ]
 },
 {
  "width": 262, "height": 226,
  "resolve": {"axis": {"x": "independent", "y": "independent"}},
  "layer": [
   {"data": {"name": "c"}, "mark": {"type": "line", "strokeWidth": 1, "clip": true},
    "encoding": {
     "x": {"field": "t", "type": "quantitative", "scale": {"type": "log", "domain": [10, 1000000]},
       "axis": {"orient": "bottom", "title": "t", "titleX": 119, "titleY": 39, "labelPadding": 14,
        "values": [10,20,30,40,50,60,70,80,90,100,200,300,400,500,600,700,800,900,1000,2000,3000,4000,5000,6000,7000,8000,9000,10000,20000,30000,40000,50000,60000,70000,80000,90000,100000,200000,300000,400000,500000,600000,700000,800000,900000,1000000],
        "labelExpr": "abs(log(datum.value)/LN10 - round(log(datum.value)/LN10)) < 1e-6 ? '10' + ['⁰','¹','²','³','⁴','⁵','⁶','⁷'][round(log(datum.value)/LN10)] : ''",
        "tickSize": {"condition": {"test": "abs(log(datum.value)/LN10 - round(log(datum.value)/LN10)) < 1e-6", "value": -7}, "value": -4}}},
     "y": {"field": "r", "type": "quantitative", "scale": {"domain": [0, 1.15], "nice": false, "zero": false},
       "axis": {"orient": "left", "title": "ρ", "titleX": -24.5, "titleY": 118, "labelPadding": 9,
        "values": [0, 0.25, 0.5, 0.75, 1],
        "labelExpr": "datum.value % 0.5 == 0 ? format(datum.value, '.1f') : ''",
        "tickSize": {"condition": {"test": "datum.value % 0.5 == 0", "value": -7}, "value": -4}}},
     "color": {"field": "k", "type": "nominal",
       "scale": {"domain": ["ρ₀ = 2.000","ρ₀ = 0.200","ρ₀ = 0.020","ρ₀ = 0.002"], "range": ["#000000","#ff0000","#00ff00","#0000ff"]},
       "legend": {"legendX": 156, "legendY": 132}}
    }},
   {"data": {"name": "tc"}, "mark": {"type": "text", "align": "left", "baseline": "middle", "fontSize": 14.5},
    "encoding": {
     "x": {"field": "t", "type": "quantitative",
       "axis": {"orient": "top", "title": null, "labels": false,
        "values": [10,20,30,40,50,60,70,80,90,100,200,300,400,500,600,700,800,900,1000,2000,3000,4000,5000,6000,7000,8000,9000,10000,20000,30000,40000,50000,60000,70000,80000,90000,100000,200000,300000,400000,500000,600000,700000,800000,900000,1000000],
        "tickSize": {"condition": {"test": "abs(log(datum.value)/LN10 - round(log(datum.value)/LN10)) < 1e-6", "value": -7}, "value": -4}}},
     "y": {"field": "r", "type": "quantitative",
       "axis": {"orient": "right", "title": null, "labels": false, "values": [0, 0.25, 0.5, 0.75, 1],
        "tickSize": {"condition": {"test": "datum.value % 0.5 == 0", "value": -7}, "value": -4}}},
     "text": {"field": "txt"}
    }},
   {"data": {"name": "sc"}, "mark": {"type": "text", "align": "left", "baseline": "middle", "fontSize": 10},
    "encoding": {"x": {"field": "t", "type": "quantitative", "axis": null}, "y": {"field": "r", "type": "quantitative", "axis": null}, "text": {"field": "txt"}}},
   {"data": {"name": "lc"}, "mark": {"type": "text", "align": "left", "baseline": "middle", "fontSize": 16},
    "encoding": {"x": {"field": "t", "type": "quantitative", "axis": null}, "y": {"field": "r", "type": "quantitative", "axis": null}, "text": {"field": "txt"}}}
  ]
 }
]
}
